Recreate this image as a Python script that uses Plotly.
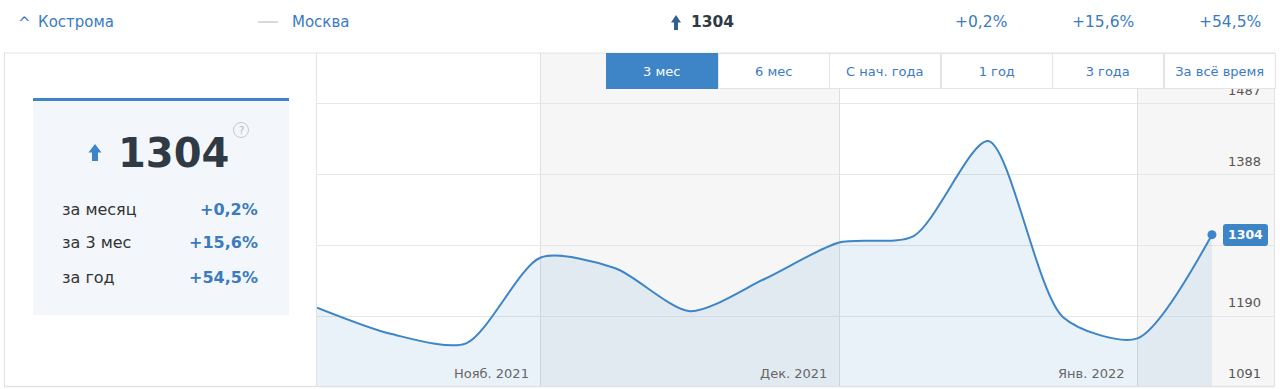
import plotly.graph_objects as go

W, H = 1280, 389

# ---------------- data ----------------
weeks = list(range(13))
values = [1202, 1165, 1152, 1272, 1257, 1197, 1242, 1293, 1302, 1435, 1189, 1159, 1304]
month_starts = [3, 7, 11]
month_labels = ["Нояб. 2021", "Дек. 2021", "Янв. 2022"]
y_grid = [1091, 1190, 1289, 1388, 1487]
y_labels = ["1091", "1190", "", "1388", "1487"]
periods = ["3 мес", "6 мес", "С нач. года", "1 год", "3 года", "За всё время"]
active_period = 0
stats_labels = ["за месяц", "за 3 мес", "за год"]
stats_values = ["+0,2%", "+15,6%", "+54,5%"]
current_value = 1304
region_name = "Кострома"
compare_name = "Москва"

BLUE = "#3d85c6"
TXT_BLUE = "#3a7bbf"
DARK = "#2f3a45"
FONT = "DejaVu Sans"


def px(x):
    return x / W


def py(y):
    return 1 - y / H


fig = go.Figure()

fig.add_trace(go.Scatter(
    x=weeks, y=values, mode="lines",
    line=dict(color=BLUE, width=2, shape="spline", smoothing=0.75),
    fill="tozeroy", fillcolor="rgba(61,133,198,0.11)",
    hoverinfo="skip", showlegend=False,
))
fig.add_trace(go.Scatter(
    x=[weeks[-1]], y=[values[-1]], mode="markers",
    marker=dict(color=BLUE, size=9), hoverinfo="skip", showlegend=False,
))

shapes = []
annotations = []

# gray month bands
band_edges = month_starts + [12.832]
for i in range(0, len(month_starts), 2):
    shapes.append(dict(type="rect", xref="x", yref="y domain",
                       x0=band_edges[i], x1=band_edges[i + 1], y0=0, y1=1,
                       fillcolor="#f6f6f6", line_width=0, layer="below"))

# outer frame
frame = "#e2e2e2"
shapes += [
    dict(type="line", xref="paper", yref="paper", x0=px(4), x1=px(1275), y0=py(53), y1=py(53), line=dict(color=frame, width=1)),
    dict(type="line", xref="paper", yref="paper", x0=px(4), x1=px(1275), y0=py(386.5), y1=py(386.5), line=dict(color=frame, width=1.5)),
    dict(type="line", xref="paper", yref="paper", x0=px(4.5), x1=px(4.5), y0=py(53), y1=py(387), line=dict(color=frame, width=1)),
    dict(type="line", xref="paper", yref="paper", x0=px(1274.5), x1=px(1274.5), y0=py(53), y1=py(387), line=dict(color=frame, width=1)),
    dict(type="line", xref="paper", yref="paper", x0=px(316.5), x1=px(316.5), y0=py(53), y1=py(387), line=dict(color=frame, width=1)),
]

# left card
shapes.append(dict(type="rect", xref="paper", yref="paper", x0=px(33), x1=px(289), y0=py(315), y1=py(98),
                   fillcolor="#f3f7fb", line_width=0))
shapes.append(dict(type="line", xref="paper", yref="paper", x0=px(33), x1=px(289), y0=py(99.5), y1=py(99.5),
                   line=dict(color=BLUE, width=3)))


def arrow(cx, top, bottom, w, shaft):
    head = top + (bottom - top) * 0.5
    pts = [(cx, top), (cx + w / 2, head), (cx + shaft / 2, head), (cx + shaft / 2, bottom),
           (cx - shaft / 2, bottom), (cx - shaft / 2, head), (cx - w / 2, head)]
    return "M " + " L ".join(f"{px(x):.5f},{py(y):.5f}" for x, y in pts) + " Z"


def rounded_rect(x0, y0, x1, y1, r):
    def P(x, y):
        return f"{px(x):.5f},{py(y):.5f}"
    return (f"M {P(x0 + r, y0)} L {P(x1 - r, y0)} Q {P(x1, y0)} {P(x1, y0 + r)} "
            f"L {P(x1, y1 - r)} Q {P(x1, y1)} {P(x1 - r, y1)} L {P(x0 + r, y1)} "
            f"Q {P(x0, y1)} {P(x0, y1 - r)} L {P(x0, y0 + r)} Q {P(x0, y0)} {P(x0 + r, y0)} Z")


shapes.append(dict(type="path", xref="paper", yref="paper", path=arrow(95, 144, 161, 13, 6),
                   fillcolor=BLUE, line_width=0))
shapes.append(dict(type="path", xref="paper", yref="paper", path=arrow(676, 15, 30, 10, 4),
                   fillcolor="#2f5f94", line_width=0))
# help icon
shapes.append(dict(type="circle", xref="paper", yref="paper", x0=px(233.5), x1=px(248.5), y0=py(137.5), y1=py(122.5),
                   line=dict(color="#c8c8c8", width=1), fillcolor="rgba(0,0,0,0)"))
annotations.append(dict(x=px(241), y=py(130.5), xref="paper", yref="paper", text="?", showarrow=False,
                        font=dict(family=FONT, size=10, color="#b8b8b8"), xanchor="center", yanchor="middle"))

# header dash for compare
shapes.append(dict(type="line", xref="paper", yref="paper", x0=px(258), x1=px(278), y0=py(22), y1=py(22),
                   line=dict(color="#cccccc", width=1.5)))

# header texts
annotations.append(dict(x=px(16), y=py(23), xref="paper", yref="paper", text="^", showarrow=False,
                        font=dict(family=FONT, size=15, color=TXT_BLUE), xanchor="left", yanchor="middle"))
annotations.append(dict(x=px(36), y=py(22), xref="paper", yref="paper", text=region_name, showarrow=False,
                        font=dict(family=FONT, size=15, color=TXT_BLUE), xanchor="left", yanchor="middle"))
annotations.append(dict(x=px(290), y=py(22), xref="paper", yref="paper", text=compare_name, showarrow=False,
                        font=dict(family=FONT, size=15, color=TXT_BLUE), xanchor="left", yanchor="middle"))
annotations.append(dict(x=px(689), y=py(22), xref="paper", yref="paper", text=f"<b>{current_value}</b>", showarrow=False,
                        font=dict(family=FONT, size=15.5, color=DARK), xanchor="left", yanchor="middle"))
for xr, v in zip([1009, 1136, 1263], stats_values):
    annotations.append(dict(x=px(xr), y=py(22), xref="paper", yref="paper", text=v, showarrow=False,
                            font=dict(family=FONT, size=15.5, color=TXT_BLUE), xanchor="right", yanchor="middle"))

# big value in card
annotations.append(dict(x=px(116), y=py(153), xref="paper", yref="paper", text=f"<b>{current_value}</b>", showarrow=False,
                        font=dict(family=FONT, size=40, color=DARK), xanchor="left", yanchor="middle"))
for i, (lab, val) in enumerate(zip(stats_labels, stats_values)):
    yy = 209 + i * 34
    annotations.append(dict(x=px(60), y=py(yy), xref="paper", yref="paper", text=lab, showarrow=False,
                            font=dict(family=FONT, size=16, color="#333333"), xanchor="left", yanchor="middle"))
    annotations.append(dict(x=px(260), y=py(yy), xref="paper", yref="paper", text=f"<b>{val}</b>", showarrow=False,
                            font=dict(family=FONT, size=16, color=TXT_BLUE), xanchor="right", yanchor="middle"))

# y axis labels
for v, lab in zip(y_grid, y_labels):
    if lab:
        annotations.append(dict(x=px(1263), y=v, xref="paper", yref="y", text=lab, showarrow=False,
                                font=dict(family=FONT, size=13, color="#555555"),
                                xanchor="right", yanchor="bottom", yshift=4))

# month labels
for m, lab in zip(month_starts, month_labels):
    annotations.append(dict(x=m, y=y_grid[0], xref="x", yref="y", text=lab, showarrow=False,
                            font=dict(family=FONT, size=13, color="#666666"),
                            xanchor="right", yanchor="bottom", xshift=-10, yshift=4))

# current value badge (rounded box + text)
shapes.append(dict(type="path", xref="paper", yref="paper", path=rounded_rect(1223, 224, 1268, 246, 3),
                   fillcolor=BLUE, line_width=0, layer="above"))
annotations.append(dict(x=weeks[-1], y=values[-1], xref="x", yref="y", text=f"<b>{values[-1]}</b>", showarrow=False,
                        font=dict(family=FONT, size=12.5, color="white"),
                        xanchor="center", yanchor="middle", xshift=33.5, yshift=0))

# period buttons (drawn last so they cover the top label)
bw = 111.5
for i, p in enumerate(periods):
    x0 = 606 + i * bw
    active = i == active_period
    annotations.append(dict(x=px(x0), y=py(53), xref="paper", yref="paper", text=p, showarrow=False,
                            font=dict(family=FONT, size=13, color="white" if active else TXT_BLUE),
                            bgcolor=BLUE if active else "white",
                            bordercolor=BLUE if active else "#e4e4e4", borderwidth=1, borderpad=0,
                            width=bw - 2, height=34, xanchor="left", yanchor="top", align="center",
                            valign="middle"))

fig.update_layout(
    width=W, height=H, margin=dict(l=0, r=0, t=0, b=0),
    paper_bgcolor="white", plot_bgcolor="white",
    font=dict(family=FONT),
    showlegend=False,
    xaxis=dict(domain=[px(317), px(1274)], range=[0, 12.832], tickvals=month_starts, showticklabels=False,
               showgrid=True, gridcolor="#dedede", gridwidth=1, zeroline=False, showline=False, fixedrange=True),
    yaxis=dict(domain=[py(387), py(53)], range=[1091, 1558], tickvals=y_grid, showticklabels=False,
               showgrid=True, gridcolor="#e6e6e6", gridwidth=1, zeroline=False, showline=False, fixedrange=True),
    shapes=shapes, annotations=annotations,
)

fig.write_html("out.html", config={"displayModeBar": False})
